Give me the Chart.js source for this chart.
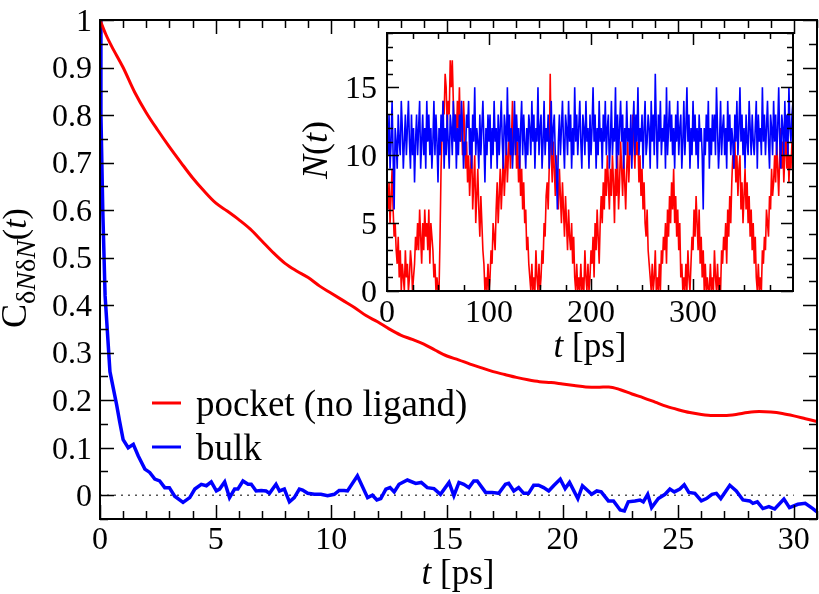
<!DOCTYPE html>
<html>
<head>
<meta charset="utf-8">
<script src="https://cdn.jsdelivr.net/npm/chart.js@4.4.1/dist/chart.umd.min.js"></script>
<style>
  html, body { margin: 0; padding: 0; background: #fff; }
  #wrap { position: relative; width: 819px; height: 594px; overflow: hidden; }
  #wrap canvas { position: absolute; left: 0; top: 0; }
</style>
</head>
<body>
<div id="wrap">
  <canvas id="main" width="819" height="594"></canvas>
  <canvas id="inset" width="819" height="594"></canvas>
  <canvas id="text" width="819" height="594"></canvas>
</div>
<script>
// --- main panel: correlation function C(t) ---
const tPocket = [0, 0.25, 0.5, 1, 1.5, 2, 2.5, 3, 3.5, 4, 4.5, 5, 5.5, 6, 6.5, 7, 7.5, 8, 8.5, 9, 9.5,
  10, 10.5, 11, 11.5, 12, 12.5, 13, 13.5, 14, 14.5, 15, 15.5, 16, 16.5, 17, 17.5, 18, 18.5, 19, 19.5,
  20, 20.5, 21, 21.5, 22, 22.5, 23, 23.5, 24, 24.5, 25, 25.5, 26, 26.5, 27, 27.5, 28, 28.5, 29, 29.5,
  30, 30.5, 31];
const cPocket = [1, 0.97, 0.945, 0.9, 0.848, 0.805, 0.768, 0.733, 0.7, 0.668, 0.64, 0.615, 0.598, 0.58, 0.56,
  0.535, 0.51, 0.488, 0.472, 0.458, 0.44, 0.425, 0.41, 0.395, 0.378, 0.365, 0.35, 0.337, 0.328, 0.318,
  0.305, 0.293, 0.285, 0.276, 0.268, 0.26, 0.254, 0.248, 0.243, 0.239, 0.237, 0.234, 0.231, 0.228,
  0.227, 0.228, 0.222, 0.213, 0.205, 0.196, 0.187, 0.18, 0.174, 0.17, 0.168, 0.168, 0.17, 0.174,
  0.176, 0.175, 0.172, 0.167, 0.161, 0.155];

const tBulk = [0, 0.04, 0.12, 0.22, 0.43, 0.72, 0.85, 1.0, 1.22, 1.44, 1.65, 1.94, 2.15, 2.37, 2.58, 2.8,
  3.0, 3.23, 3.59, 3.88, 4.1, 4.38, 4.6, 4.81, 5.03, 5.17, 5.39, 5.6, 5.82, 5.96, 6.18, 6.4, 6.54, 6.75,
  6.97, 7.18, 7.33, 7.61, 7.76, 7.97, 8.19, 8.4, 8.62, 8.76, 8.98, 9.27, 9.55, 9.84, 10.13, 10.34,
  10.56, 10.7, 11.13, 11.57, 11.78, 11.97, 12.14, 12.36, 12.54, 12.72, 12.93, 13.29, 13.65, 13.89,
  14.15, 14.44, 14.72, 15.09, 15.3, 15.52, 15.73, 15.95, 16.16, 16.31, 16.67, 16.95, 17.24, 17.53,
  17.67, 17.89, 18.1, 18.32, 18.53, 18.75, 18.96, 19.18, 19.4, 19.61, 19.9, 20.11, 20.3, 20.66, 20.86,
  21.26, 21.48, 21.67, 21.98, 22.2, 22.49, 22.67, 22.84, 23.13, 23.35, 23.49, 23.68, 23.85, 24.14,
  24.43, 24.64, 24.83, 25.07, 25.26, 25.46, 25.72, 26.0, 26.22, 26.46, 26.65, 26.84, 27.23, 27.51,
  27.8, 28.09, 28.23, 28.42, 28.66, 28.92, 29.17, 29.57, 29.81, 30.17, 30.49, 30.82, 31.0];
const cBulk = [1.0, 0.8, 0.6, 0.42, 0.26, 0.19, 0.155, 0.117, 0.1, 0.107, 0.083, 0.055, 0.048, 0.034, 0.03,
  0.016, 0.016, -0.002, -0.015, -0.005, 0.013, 0.023, 0.02, 0.028, 0.009, 0.013, 0.028, -0.005, 0.013,
  0.013, 0.03, 0.023, 0.023, 0.009, 0.01, 0.009, 0.004, 0.023, 0.009, 0.013, -0.014, -0.005, 0.013,
  0.011, 0.004, 0.002, 0.002, -0.001, 0.002, 0.01, 0.01, 0.009, 0.041, -0.005, 0, -0.01, -0.007, 0.013,
  0.016, 0.007, 0.023, 0.032, 0.025, 0.027, 0.016, 0.014, 0.002, 0.027, -0.001, 0.027, 0.023, 0.016,
  0.03, 0.03, 0.006, 0.006, 0.004, 0.023, 0.025, 0.009, 0.016, 0.004, 0.004, 0.021, 0.021, 0.016,
  0.009, 0.02, 0.034, 0.014, 0.027, -0.007, 0.02, 0.002, 0.009, 0.007, -0.012, -0.012, -0.031, -0.033,
  -0.014, -0.012, -0.01, -0.014, 0.002, -0.026, -0.007, 0.002, 0.013, 0.007, 0.013, 0.022, 0.006,
  0.004, -0.012, -0.007, 0.002, 0.004, -0.007, 0.021, 0.009, -0.01, -0.012, -0.017, -0.014, -0.028,
  -0.024, -0.029, -0.008, -0.026, -0.019, -0.017, -0.028, -0.035];

const zeroLineT = [0, 30];
const xTicks = [0, 5, 10, 15, 20, 25, 30];
const yTicks = [0, 0.1, 0.2, 0.3, 0.4, 0.5, 0.6, 0.7, 0.8, 0.9, 1];

// --- inset: N(t), one sample per ps (t = 0..398) ---
const insetStep = 1;
const nPocket = [
  7, 6, 8, 5, 7, 9, 6, 4, 5, 3,   2, 4, 1, 3, 0, 2, 1, 0, 3, 1,
  2, 0, 1, 3, 2, 0, 1, 2, 4, 3,   5, 3, 6, 4, 2, 5, 3, 6, 4, 5,
  3, 6, 2, 5, 4, 3, 1, 2, 0, 1,   0, 0, 4, 9, 12, 14, 13, 16, 15, 12,
  14, 13, 17, 15, 17, 14, 12, 13, 11, 14,   12, 15, 11, 13, 10, 14, 12, 9, 11, 8,
  10, 7, 9, 11, 6, 8, 10, 5, 7, 9,   6, 4, 7, 5, 3, 2, 0, 1, 0, 2,
  0, 1, 3, 2, 5, 4, 3, 6, 8, 5,   7, 9, 6, 8, 10, 7, 9, 11, 8, 10,
  12, 9, 11, 14, 10, 12, 13, 9, 11, 8,   10, 7, 9, 6, 8, 5, 6, 3, 4, 2,
  1, 0, 2, 0, 1, 0, 3, 1, 0, 2,   0, 1, 3, 2, 5, 4, 7, 8, 6, 9,
  16, 10, 8, 11, 9, 7, 10, 8, 6, 9,   7, 5, 8, 6, 4, 7, 5, 3, 6, 4,
  3, 5, 2, 4, 1, 0, 2, 0, 1, 0,   2, 0, 1, 0, 3, 1, 0, 2, 0, 1,
  3, 2, 4, 1, 5, 3, 6, 4, 2, 5,   7, 5, 8, 6, 9, 7, 10, 8, 6, 9,
  7, 10, 8, 5, 9, 7, 10, 6, 8, 11,   9, 7, 10, 8, 6, 9, 11, 8, 10, 12,
  10, 13, 11, 9, 12, 10, 11, 8, 10, 7,   9, 6, 8, 5, 4, 6, 3, 2, 1, 0,
  2, 0, 1, 3, 0, 1, 0, 2, 0, 3,   2, 4, 3, 5, 2, 6, 4, 7, 5, 8,
  6, 9, 5, 7, 4, 6, 3, 5, 1, 2,   0, 1, 0, 2, 0, 3, 1, 0, 2, 4,
  3, 6, 4, 7, 5, 3, 6, 2, 4, 1,   3, 0, 2, 0, 1, 0, 0, 2, 0, 1,
  0, 3, 1, 0, 2, 0, 1, 0, 3, 2,   4, 3, 5, 2, 6, 4, 7, 5, 8, 10,
  9, 11, 8, 10, 7, 9, 10, 6, 8, 5,   7, 9, 6, 8, 5, 7, 4, 6, 3, 5,
  2, 4, 1, 0, 2, 0, 1, 0, 3, 2,   4, 3, 6, 5, 4, 7, 6, 9, 7, 8,
  10, 8, 11, 9, 7, 10, 12, 9, 11, 8,   10, 12, 9, 11, 8, 10, 9, 11, 10];
const nBulk = [
  12, 10, 13, 9, 11, 14, 10, 6, 12, 11,   9, 13, 11, 10, 14, 12, 9, 11, 13, 10,
  12, 14, 11, 9, 13, 10, 12, 8, 11, 13,   10, 12, 14, 9, 11, 13, 10, 12, 9, 14,
  11, 13, 10, 12, 9, 11, 14, 10, 13, 11,   8, 12, 10, 13, 11, 14, 9, 12, 10, 13,
  11, 9, 13, 12, 10, 14, 11, 13, 9, 12,   10, 13, 11, 14, 12, 9, 11, 10, 13, 12,
  14, 10, 12, 9, 13, 11, 15, 10, 12, 11,   9, 13, 10, 12, 14, 11, 8, 12, 10, 13,
  11, 13, 9, 12, 10, 14, 11, 12, 9, 13,   10, 12, 14, 11, 9, 13, 12, 10, 15, 11,
  13, 10, 12, 9, 11, 14, 10, 13, 11, 12,   9, 12, 14, 10, 13, 11, 9, 12, 10, 13,
  12, 10, 14, 11, 13, 9, 12, 11, 15, 10,   12, 13, 9, 11, 14, 10, 12, 11, 13, 9,
  11, 14, 10, 12, 13, 10, 9, 6, 11, 13,   10, 12, 14, 11, 9, 13, 12, 10, 14, 11,
  13, 9, 12, 10, 15, 11, 13, 10, 12, 14,   11, 9, 13, 12, 10, 14, 11, 12, 9, 13,
  10, 12, 15, 11, 13, 9, 12, 10, 14, 11,   12, 9, 13, 11, 14, 10, 12, 13, 9, 11,
  14, 10, 12, 11, 15, 9, 13, 10, 12, 14,   11, 13, 9, 12, 10, 14, 11, 12, 10, 13,
  9, 12, 14, 10, 13, 11, 15, 10, 12, 11,   13, 9, 12, 14, 10, 11, 13, 12, 9, 14,
  11, 13, 10, 16, 12, 9, 13, 11, 14, 10,   12, 11, 13, 9, 15, 10, 12, 14, 11, 13,
  10, 12, 9, 13, 11, 14, 10, 12, 13, 9,   11, 14, 10, 12, 15, 11, 13, 9, 12, 10,
  14, 11, 13, 10, 12, 9, 13, 11, 12, 10,   6, 12, 10, 13, 11, 14, 9, 12, 10, 13,
  11, 13, 10, 15, 12, 9, 11, 14, 10, 12,   13, 10, 12, 9, 14, 11, 13, 10, 12, 11,
  9, 13, 11, 14, 10, 12, 15, 11, 13, 10,   12, 9, 13, 11, 10, 14, 12, 10, 13, 11,
  10, 12, 14, 9, 13, 11, 12, 10, 15, 11,   13, 10, 12, 14, 11, 9, 13, 12, 10, 14,
  11, 13, 10, 12, 15, 11, 9, 13, 12, 10,   14, 11, 13, 10, 15, 12, 11, 13, 14];
const insetXTicks = [0, 100, 200, 300];
const insetYTicks = [0, 5, 10, 15];

const FONT = '"Liberation Serif"';
const RED = '#ff0000';
const BLUE = '#0000ff';

function pts(xs, ys) {
  return xs.map((x, i) => ({ x: x, y: ys[i] }));
}

// rich text (italic t, N and the subscript), optionally rotated
function drawRich(ctx, parts, x, y, rotate) {
  ctx.save();
  ctx.translate(x, y);
  if (rotate) ctx.rotate(-Math.PI / 2);
  let total = 0;
  parts.forEach(p => {
    ctx.font = p.font;
    p.w = ctx.measureText(p.text).width;
    total += p.w;
  });
  let cx = -total / 2;
  ctx.textAlign = 'left';
  ctx.textBaseline = 'alphabetic';
  ctx.fillStyle = '#000';
  parts.forEach(p => {
    ctx.font = p.font;
    ctx.fillText(p.text, cx, p.dy || 0);
    cx += p.w;
  });
  ctx.restore();
}

// tick labels on the text layer, placed with the chart's scales
function tickLabels(ctx, chart, xs, ys, xBase, yRight, size) {
  const sx = chart.scales.x, sy = chart.scales.y;
  ctx.save();
  ctx.fillStyle = '#000';
  ctx.font = size + 'px ' + FONT;
  ctx.textBaseline = 'alphabetic';
  ctx.textAlign = 'center';
  xs.forEach(v => ctx.fillText(String(v), sx.getPixelForValue(v), xBase));
  ctx.textAlign = 'right';
  ys.forEach(v => ctx.fillText(String(v), yRight, sy.getPixelForValue(v) + 0.338 * size));
  ctx.restore();
}

// box + inward ticks on all four sides
const frameTicks = {
  id: 'frameTicks',
  beforeDatasetsDraw(chart, args, opts) {
    if (!opts.fill) return;
    const a = chart.chartArea;
    chart.ctx.save();
    chart.ctx.fillStyle = '#fff';
    chart.ctx.fillRect(a.left, a.top, a.right - a.left, a.bottom - a.top);
    chart.ctx.restore();
  },
  afterDatasetsDraw(chart, args, opts) {
    const ctx = chart.ctx;
    const a = chart.chartArea;
    const sx = chart.scales.x, sy = chart.scales.y;
    ctx.save();
    ctx.strokeStyle = '#000';
    ctx.lineWidth = 1.5;
    ctx.beginPath();
    for (let v = sx.min; v <= sx.max + 1e-9; v += opts.minorX) {
      const isMajor = Math.abs(v / opts.majorX - Math.round(v / opts.majorX)) < 1e-6;
      const len = isMajor ? opts.majorLen : opts.minorLen;
      const px = Math.round(sx.getPixelForValue(v)) + 0.5;
      ctx.moveTo(px, a.bottom); ctx.lineTo(px, a.bottom - len);
      ctx.moveTo(px, a.top); ctx.lineTo(px, a.top + len);
    }
    const y0 = Math.ceil(sy.min / opts.minorY - 1e-6) * opts.minorY;
    for (let v = y0; v <= sy.max + 1e-9; v += opts.minorY) {
      const isMajor = Math.abs(v / opts.majorY - Math.round(v / opts.majorY)) < 1e-6;
      const len = isMajor ? opts.majorLen : opts.minorLen;
      const py = Math.round(sy.getPixelForValue(v)) + 0.5;
      ctx.moveTo(a.left, py); ctx.lineTo(a.left + len, py);
      ctx.moveTo(a.right, py); ctx.lineTo(a.right - len, py);
    }
    ctx.stroke();
    ctx.lineWidth = 2;
    ctx.strokeRect(a.left, a.top, a.right - a.left, a.bottom - a.top);
    ctx.restore();
  }
};

// legend line samples
const legendLines = {
  id: 'legendLines',
  afterDraw(chart) {
    const ctx = chart.ctx;
    chart.data.datasets.filter(d => d.inLegend).forEach((d, i) => {
      const y = 403 + i * 44;
      ctx.save();
      ctx.strokeStyle = d.borderColor;
      ctx.lineWidth = 3;
      ctx.beginPath();
      ctx.moveTo(152, y); ctx.lineTo(181, y);
      ctx.stroke();
      ctx.restore();
    });
  }
};

function axis(min, max, ticks, fit) {
  return {
    type: 'linear', min: min, max: max,
    afterBuildTicks: s => { s.ticks = ticks.map(v => ({ value: v })); },
    afterFit: fit,
    grid: { display: false, drawTicks: false },
    border: { display: false },
    ticks: { display: false }
  };
}

const mainChart = new Chart(document.getElementById('main'), {
  type: 'line',
  data: {
    datasets: [
      { label: 'pocket (no ligand)', inLegend: true, data: pts(tPocket, cPocket), borderColor: RED,
        borderWidth: 3, pointRadius: 0, cubicInterpolationMode: 'monotone' },
      { label: 'bulk', inLegend: true, data: pts(tBulk, cBulk), borderColor: BLUE,
        borderWidth: 3.5, pointRadius: 0, tension: 0 },
      { label: 'zero', data: pts(zeroLineT, [0, 0]), borderColor: '#555', borderWidth: 1.5,
        borderDash: [2, 5], pointRadius: 0 }
    ]
  },
  options: {
    responsive: false, animation: false, events: [],
    layout: { padding: { top: 20, right: 2, left: 0, bottom: 0 } },
    scales: {
      x: axis(0, 31, xTicks, s => { s.height = 75; }),
      y: axis(-0.05, 1, yTicks, s => { s.width = 100; })
    },
    plugins: {
      legend: { display: false }, tooltip: { enabled: false },
      frameTicks: { majorX: 5, minorX: 1, majorY: 0.1, minorY: 0.05, majorLen: 14, minorLen: 8 }
    }
  },
  plugins: [frameTicks, legendLines]
});

const insetChart = new Chart(document.getElementById('inset'), {
  type: 'line',
  data: {
    datasets: [
      { label: 'bulk', data: nBulk.map((n, i) => ({ x: i * insetStep, y: n })), borderColor: BLUE,
        borderWidth: 1.6, pointRadius: 0, tension: 0 },
      { label: 'pocket', data: nPocket.map((n, i) => ({ x: i * insetStep, y: n })), borderColor: RED,
        borderWidth: 1.6, pointRadius: 0, tension: 0 }
    ]
  },
  options: {
    responsive: false, animation: false, events: [],
    layout: { padding: { top: 33, right: 26, left: 307, bottom: 223 } },
    scales: {
      x: axis(0, 398, insetXTicks, s => { s.height = 80; }),
      y: axis(0, 19, insetYTicks, s => { s.width = 80; })
    },
    plugins: {
      legend: { display: false }, tooltip: { enabled: false },
      frameTicks: { fill: true, majorX: 100, minorX: 25, majorY: 5, minorY: 1, majorLen: 12, minorLen: 6 }
    }
  },
  plugins: [frameTicks]
});

// all text on a plain canvas layer above the two charts
const tctx = document.getElementById('text').getContext('2d');
tickLabels(tctx, mainChart, xTicks, yTicks, 549, 92, 32);
tickLabels(tctx, insetChart, insetXTicks, insetYTicks, 322, 377, 32);

drawRich(tctx, [
  { text: 't', font: 'italic 35px ' + FONT },
  { text: ' [ps]', font: '35px ' + FONT }
], 458, 584, false);
drawRich(tctx, [
  { text: 't', font: 'italic 35px ' + FONT },
  { text: ' [ps]', font: '35px ' + FONT }
], 590, 357, false);
drawRich(tctx, [
  { text: 'N', font: 'italic 36px ' + FONT },
  { text: '(', font: '36px ' + FONT },
  { text: 't', font: 'italic 36px ' + FONT },
  { text: ')', font: '36px ' + FONT }
], 327, 150, true);
drawRich(tctx, [
  { text: 'C', font: '36px ' + FONT },
  { text: 'δ', font: '28px ' + FONT, dy: 9 },
  { text: 'N', font: 'italic 28px ' + FONT, dy: 9 },
  { text: 'δ', font: '28px ' + FONT, dy: 9 },
  { text: 'N', font: 'italic 28px ' + FONT, dy: 9 },
  { text: '(', font: '34px ' + FONT },
  { text: 't', font: 'italic 34px ' + FONT },
  { text: ')', font: '34px ' + FONT }
], 26, 268, true);

// legend words
tctx.save();
tctx.fillStyle = '#000';
tctx.font = '37px ' + FONT;
tctx.textBaseline = 'alphabetic';
mainChart.data.datasets.filter(d => d.inLegend).forEach((d, i) => {
  tctx.fillText(d.label, 196, 403 + i * 44 + 12.5);
});
tctx.restore();
</script>
</body>
</html>
